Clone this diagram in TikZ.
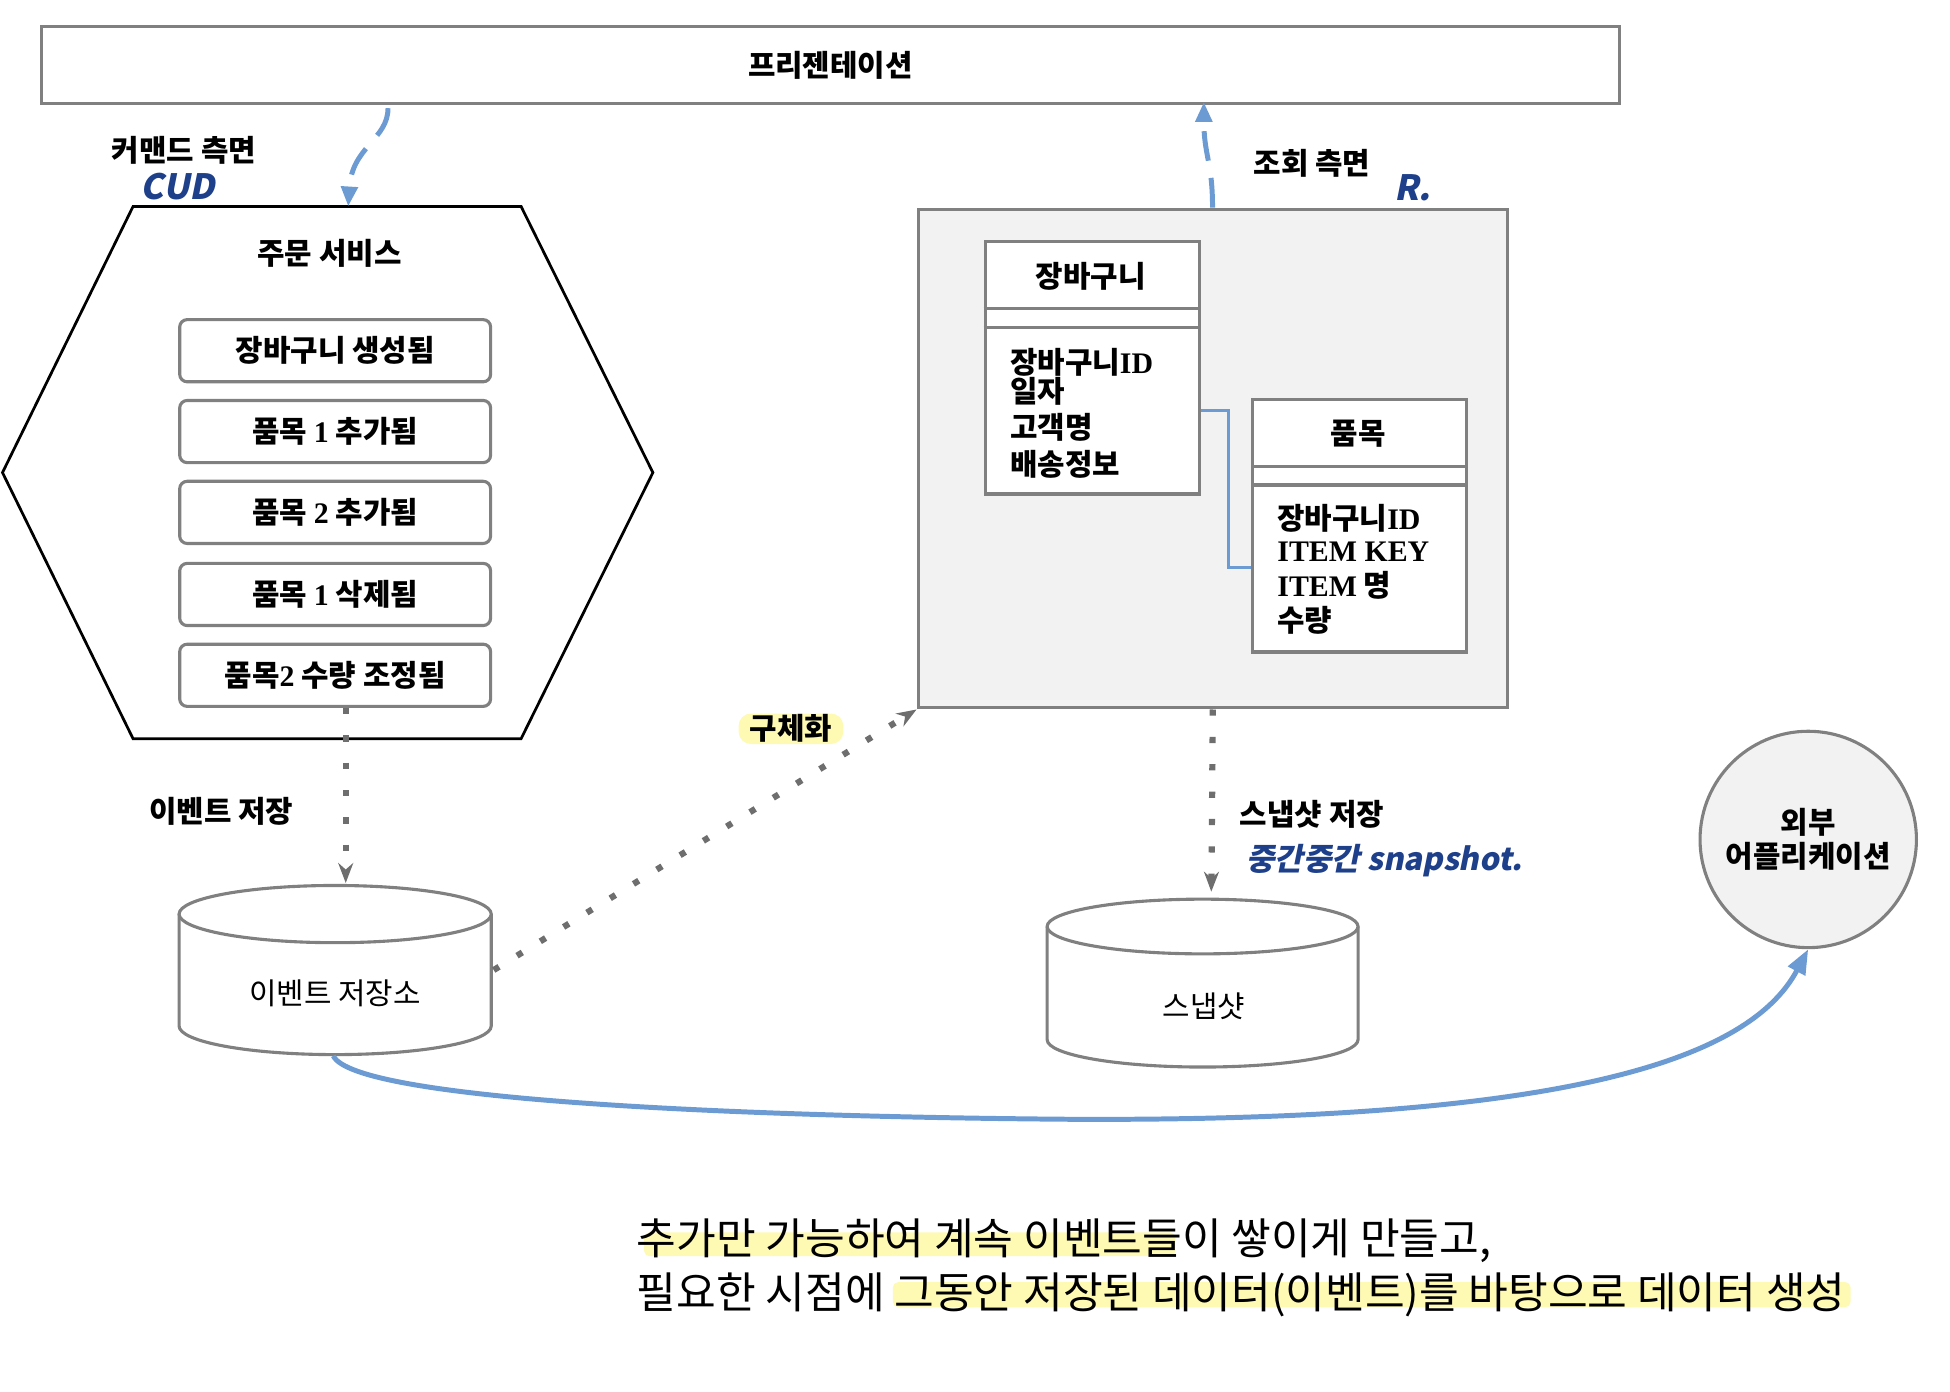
\documentclass[tikz,border=0pt]{standalone}
\usepackage{fontspec}
\setmainfont{Noto Sans CJK KR}
\newfontfamily\latserif{Liberation Serif}
\newfontfamily\handfont{Noto Sans CJK KR}[FakeSlant=0.2]
\usetikzlibrary{arrows.meta,calc}
\definecolor{lgray}{HTML}{808080}
\definecolor{dotgray}{HTML}{6E6E6E}
\definecolor{lfill}{HTML}{F2F2F2}
\definecolor{lblue}{HTML}{6B9BD2}
\definecolor{hblue}{HTML}{1E3F8A}
\definecolor{hlyellow}{HTML}{FEFAB4}
\tikzset{
  lbl/.style={inner sep=0pt, font=\fontsize{24}{28}\selectfont\bfseries},
  hand/.style={inner sep=0pt, text=hblue, font=\fontsize{25}{28}\selectfont\bfseries\handfont},
  grayline/.style={draw=lgray, line width=2.5pt},
  evtbox/.style={grayline, fill=white, rounded corners=6pt, minimum width=250pt, minimum height=50pt, inner sep=0pt, font=\fontsize{24}{28}\selectfont\bfseries},
  dotarrow/.style={draw=dotgray, line width=5pt, dash pattern=on 5pt off 17pt, -{Stealth[length=16pt,width=12pt]}},
  bluedash/.style={draw=lblue, line width=4pt, dash pattern=on 24pt off 14pt, -{Triangle[length=16pt,width=13pt]}},
  attr/.style={inner sep=0pt, anchor=west, font=\fontsize{24}{28}\selectfont\bfseries},
}
\begin{document}
\begin{tikzpicture}[x=1pt,y=-1pt]
\useasboundingbox (0,0) rectangle (1568,1119.3);

% presentation
\node[grayline, minimum width=1269pt, minimum height=62pt, inner sep=0pt, anchor=north west, lbl] (pres) at (32,20) {프리젠테이션};

% command side
\node[lbl] (cmdlbl) at (148,121) {커맨드 측면};
\node[hand, font=\fontsize{28}{30}\selectfont\bfseries\handfont] (cud) at (143,150) {CUD};

% hexagon
\draw[black, line width=2.2pt] (107,166) -- (419,166) -- (525,380) -- (419,594) -- (107,594) -- (2,380) -- cycle;
\coordinate (hextop) at (280,166);
\node[lbl] (svc) at (265,204) {주문 서비스};

\node[evtbox] (e1) at (269.5,282) {장바구니 생성됨};
\node[evtbox] (e2) at (269.5,347) {품목 {\latserif 1} 추가됨};
\node[evtbox] (e3) at (269.5,412) {품목 {\latserif 2} 추가됨};
\node[evtbox] (e4) at (269.5,478) {품목 {\latserif 1} 삭제됨};
\node[evtbox] (e5) at (269.5,543) {품목{\latserif 2} 수량 조정됨};

% presentation -> command arrow
\coordinate (presA) at (312,87);
\draw[bluedash] (presA) .. controls (312,112) and (283,118) .. (hextop);

% query box
\node[grayline, fill=lfill, minimum width=474pt, minimum height=401pt, inner sep=0pt, anchor=north west] (qbox) at (737,167) {};
\coordinate (presB) at (968,82);
\draw[bluedash] (qbox.north -| 975,0) .. controls (975,130) and (968,125) .. (presB);
\node[lbl] (qlbl) at (1055,131) {조회 측면};
\node[hand, font=\fontsize{28}{30}\selectfont\bfseries\handfont] (rr) at (1136,151) {R.};

% class 1
\node[grayline, fill=white, minimum width=172pt, minimum height=203pt, inner sep=0pt, anchor=north west] (cls1) at (791,193) {};
\draw[grayline] (791,248) -- (963,248);
\draw[grayline] (791,263) -- (963,263);
\node[lbl] (c1t) at (877,222) {장바구니};
\node[attr] (c1a) at (812,291) {장바구니{\latserif ID}};
\node[attr] (c1b) at (812,315) {일자};
\node[attr] (c1c) at (812,344) {고객명};
\node[attr] (c1d) at (812,373) {배송정보};

% class 2
\node[grayline, fill=white, minimum width=172pt, minimum height=203pt, inner sep=0pt, anchor=north west] (cls2) at (1006,320) {};
\draw[grayline] (1006,375) -- (1178,375);
\draw[grayline] (1006,390) -- (1178,390);
\node[lbl] (c2t) at (1092,349) {품목};
\node[attr] (c2a) at (1027,417) {장바구니{\latserif ID}};
\node[attr] (c2b) at (1027,444) {\latserif ITEM KEY};
\node[attr] (c2c) at (1027,471) {{\latserif ITEM} 명};
\node[attr] (c2d) at (1027,499) {수량};

\draw[draw=lblue, line width=2.5pt] ($(cls1.north east)+(0,137)$) -- ++(22,0) |- ($(cls2.north west)+(0,136)$);

% event store cylinder
\draw[grayline, fill=white] (144,735) -- (144,825) arc[start angle=180, end angle=0, x radius=125.5, y radius=23] -- (395,735);
\draw[grayline, fill=white] (269.5,735) ellipse [x radius=125.5, y radius=23];
\node[inner sep=0pt, font=\fontsize{24}{28}\selectfont] (es) at (269.5,799) {이벤트 저장소};
\coordinate (estop) at (278,710);
\coordinate (esright) at (397,780);
\coordinate (esbot) at (268,849);

\draw[dotarrow] (e5.south -| estop) -- (estop);
\node[lbl] (evlbl) at (178,652) {이벤트 저장};

% materialize
\draw[dotarrow] (esright) -- (qbox.south west);
\node[lbl, fill=hlyellow, rounded corners=10pt, inner xsep=9pt, inner ysep=1pt] (mat) at (636,586) {구체화};

% snapshot cylinder
\draw[grayline, fill=white] (842,745) -- (842,836) arc[start angle=180, end angle=0, x radius=125, y radius=22] -- (1092,745);
\draw[grayline, fill=white] (967,745) ellipse [x radius=125, y radius=22];
\node[inner sep=0pt, font=\fontsize{24}{28}\selectfont] (snap) at (968,809) {스냅샷};
\coordinate (sntop) at (974,717);
\draw[dotarrow] (qbox.south) -- (sntop);
\node[lbl] (snlbl) at (1055,655) {스냅샷 저장};
\node[hand] (snhand) at (1113,692) {중간중간 snapshot.};

% external app
\node[circle, grayline, fill=lfill, minimum size=174pt, inner sep=0pt, align=center, font=\fontsize{24}{27}\selectfont\bfseries] (ext) at (1454,675) {외부\\어플리케이션};

\draw[draw=lblue, line width=4pt, -{Triangle[length=20pt,width=15pt]}] (esbot) .. controls (285,885) and (600,898) .. (860,900) .. controls (1250,902) and (1405,855) .. (ext.south);

% bottom note
\fill[hlyellow, rounded corners=4pt] (518,991) rectangle (945,1010);
\fill[hlyellow, rounded corners=4pt] (718,1031) rectangle (1488,1051);
\node[inner sep=0pt, anchor=west, font=\fontsize{34.7}{38}\selectfont] (n1) at (512,998) {추가만 가능하여 계속 이벤트들이 쌓이게 만들고,};
\node[inner sep=0pt, anchor=west, font=\fontsize{34.7}{38}\selectfont] (n2) at (512,1041) {필요한 시점에 그동안 저장된 데이터(이벤트)를 바탕으로 데이터 생성};
\end{tikzpicture}
\end{document}
